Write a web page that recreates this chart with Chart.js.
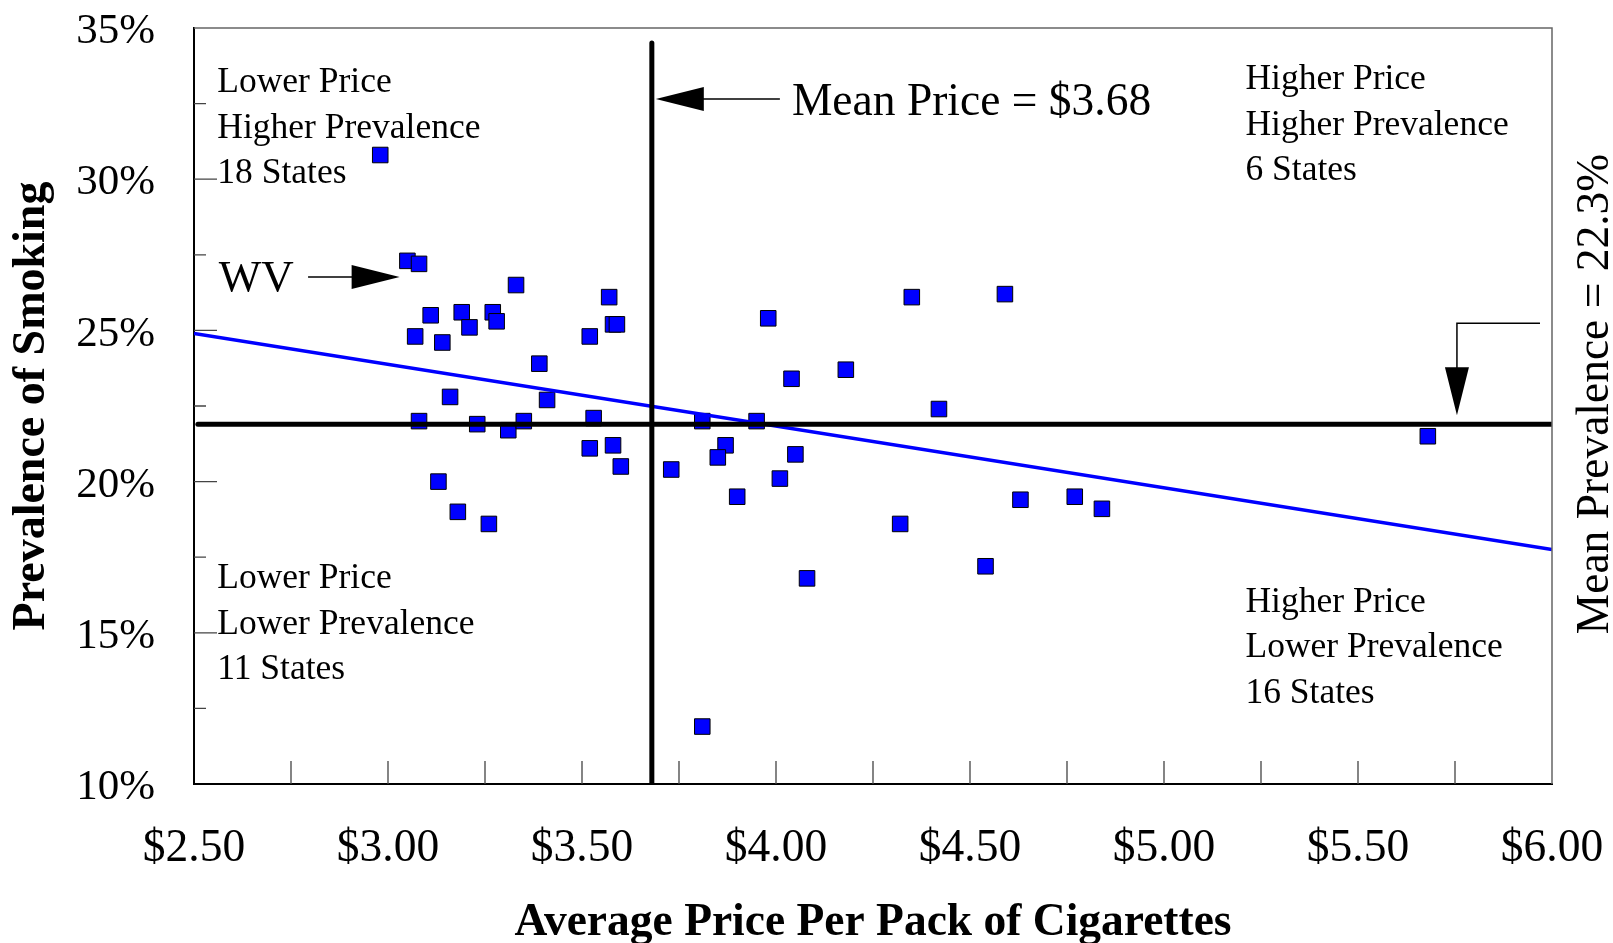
<!DOCTYPE html>
<html>
<head>
<meta charset="utf-8">
<title>Prevalence of Smoking vs Average Price Per Pack of Cigarettes</title>
<script src="https://cdn.jsdelivr.net/npm/chart.js@4/dist/chart.umd.min.js"></script>
<style>
    html, body { margin: 0; padding: 0; background: #fff; }
    #chart { display: block; }
</style>
</head>
<body>
<canvas id="chart" width="1613" height="943"></canvas>
<script>
// one point per state (50 + DC)
var prices = [2.98, 3.05, 3.08, 3.33, 3.11, 3.19, 3.21, 3.27, 3.28, 3.07, 3.14, 3.57, 3.58, 3.59, 3.52, 3.39, 3.16, 3.41,
    3.08, 3.23, 3.31, 3.35, 3.53, 3.52, 3.58, 3.60, 3.73, 3.13, 3.18, 3.26,
    3.98, 4.35, 4.59, 4.04, 4.18, 4.42, 3.81, 3.95, 3.87, 3.85, 4.05, 4.01, 3.90, 4.63, 4.77, 4.84, 4.32, 4.54, 4.08, 3.81,
    5.68];
var prevalence = [30.8, 27.3, 27.2, 26.5, 25.5, 25.6, 25.1, 25.6, 25.3, 24.8, 24.6, 26.1, 25.2, 25.2, 24.8, 23.9, 22.8, 22.7,
    22.0, 21.9, 21.7, 22.0, 22.1, 21.1, 21.2, 20.5, 20.4, 20.0, 19.0, 18.6,
    25.4, 26.1, 26.2, 23.4, 23.7, 22.4, 22.0, 22.0, 21.2, 20.8, 20.9, 20.1, 19.5, 19.4, 19.5, 19.1, 18.6, 17.2, 16.8, 11.9,
    21.5];

// fitted trend line end points
var trendPrices = [2.5, 6.0];
var trendPrevalence = [24.9, 17.75];

// mean lines (the horizontal one sits where the original draws it)
var meanPrice = 3.68;
var meanPriceTop = 34.5;
var meanPrevalenceLine = 21.9;
var meanPrevalenceStart = 2.51;

var priceMin = 2.5, priceMax = 6.0, priceStep = 0.5;
var prevMin = 10, prevMax = 35, prevStep = 5;

var meanPriceText = "Mean Price = $3.68";
var meanPrevalenceText = "Mean Prevalence = 22.3%";
var quadrantLabels = [
    ["Lower Price", "Higher Prevalence", "18 States"],
    ["Higher Price", "Higher Prevalence", "6 States"],
    ["Lower Price", "Lower Prevalence", "11 States"],
    ["Higher Price", "Lower Prevalence", "16 States"]
];

var serif = '"Liberation Serif", "Times New Roman", Times, serif';

function toPoints(xs, ys) {
    var pts = [];
    for (var i = 0; i < xs.length; i++) {
        pts.push({x: xs[i], y: ys[i]});
    }
    return pts;
}

function arrowHead(ctx, tipX, tipY, dir) {
    var len = 48, half = 12;
    ctx.beginPath();
    ctx.moveTo(tipX, tipY);
    if (dir === "left") {
        ctx.lineTo(tipX + len, tipY - half);
        ctx.lineTo(tipX + len, tipY + half);
    } else if (dir === "right") {
        ctx.lineTo(tipX - len, tipY - half);
        ctx.lineTo(tipX - len, tipY + half);
    } else {
        ctx.lineTo(tipX - half, tipY - len);
        ctx.lineTo(tipX + half, tipY - len);
    }
    ctx.closePath();
    ctx.fill();
}

var decorations = {
    id: "decorations",
    afterDatasetsDraw: function (chart) {
        var ctx = chart.ctx;
        var xs = chart.scales.x;
        var ys = chart.scales.y;
        var area = chart.chartArea;
        var i, px, py;

        ctx.save();

        // thin top / right frame
        ctx.strokeStyle = "#666";
        ctx.lineWidth = 1.5;
        ctx.beginPath();
        ctx.moveTo(area.left, area.top);
        ctx.lineTo(area.right, area.top);
        ctx.lineTo(area.right, area.bottom);
        ctx.stroke();

        // inward tick marks
        ctx.strokeStyle = "#444";
        ctx.lineWidth = 1.3;
        ctx.beginPath();
        for (i = 1; i < (priceMax - priceMin) / 0.25; i++) {
            px = xs.getPixelForValue(priceMin + i * 0.25);
            ctx.moveTo(px, area.bottom);
            ctx.lineTo(px, area.bottom - 23);
        }
        for (i = 1; i < (prevMax - prevMin) / 2.5; i++) {
            py = ys.getPixelForValue(prevMin + i * 2.5);
            ctx.moveTo(area.left, py);
            ctx.lineTo(area.left + (i % 2 === 0 ? 23 : 12), py);
        }
        ctx.stroke();

        ctx.fillStyle = "#000";
        ctx.strokeStyle = "#000";
        ctx.textAlign = "left";
        ctx.textBaseline = "alphabetic";

        // quadrant notes
        ctx.font = "35.5px " + serif;
        var noteX = [xs.getPixelForValue(2.56), xs.getPixelForValue(5.21), xs.getPixelForValue(2.56), xs.getPixelForValue(5.21)];
        var noteY = [ys.getPixelForValue(32.88), ys.getPixelForValue(32.98), ys.getPixelForValue(16.48), ys.getPixelForValue(15.69)];
        for (i = 0; i < quadrantLabels.length; i++) {
            for (var j = 0; j < quadrantLabels[i].length; j++) {
                ctx.fillText(quadrantLabels[i][j], noteX[i], noteY[i] + j * 45.5);
            }
        }

        // mean price label and arrow
        ctx.font = "45.5px " + serif;
        ctx.fillText(meanPriceText, xs.getPixelForValue(4.041), ys.getPixelForValue(32.12));
        var arrowY = ys.getPixelForValue(32.65);
        var tipX = xs.getPixelForValue(meanPrice) + 4;
        ctx.lineWidth = 1.5;
        ctx.beginPath();
        ctx.moveTo(xs.getPixelForValue(4.01), arrowY);
        ctx.lineTo(tipX + 40, arrowY);
        ctx.stroke();
        arrowHead(ctx, tipX, arrowY, "left");

        // WV label and arrow
        ctx.font = "45px " + serif;
        ctx.fillText("WV", xs.getPixelForValue(2.564), ys.getPixelForValue(26.30));
        var wvY = ys.getPixelForValue(26.77);
        var wvTip = xs.getPixelForValue(3.03);
        ctx.beginPath();
        ctx.moveTo(xs.getPixelForValue(2.794), wvY);
        ctx.lineTo(wvTip - 40, wvY);
        ctx.stroke();
        arrowHead(ctx, wvTip, wvY, "right");

        // mean prevalence elbow arrow
        var elbowY = ys.getPixelForValue(25.24);
        var elbowX = xs.getPixelForValue(5.755);
        var prevTip = ys.getPixelForValue(meanPrevalenceLine) - 9;
        ctx.beginPath();
        ctx.moveTo(xs.getPixelForValue(5.969), elbowY);
        ctx.lineTo(elbowX, elbowY);
        ctx.lineTo(elbowX, prevTip - 40);
        ctx.stroke();
        arrowHead(ctx, elbowX, prevTip, "down");

        // rotated mean prevalence text right of the plot
        ctx.translate(area.right + 56, (area.top + area.bottom) / 2 - 12);
        ctx.rotate(-Math.PI / 2);
        ctx.textAlign = "center";
        ctx.font = "45.5px " + serif;
        ctx.fillText(meanPrevalenceText, 0, 0);

        ctx.restore();
    }
};

Chart.defaults.font.family = serif;
Chart.defaults.color = "#000";

var ctx = document.getElementById("chart").getContext("2d");
var chart = new Chart(ctx, {
    type: "scatter",
    data: {
        datasets: [
            {
                label: "Mean price",
                type: "line",
                data: [{x: meanPrice, y: meanPriceTop}, {x: meanPrice, y: prevMin}],
                borderColor: "#000",
                borderWidth: 5,
                borderCapStyle: "round",
                pointRadius: 0,
                fill: false,
                order: 1
            },
            {
                label: "Mean prevalence",
                type: "line",
                data: [{x: meanPrevalenceStart, y: meanPrevalenceLine}, {x: priceMax, y: meanPrevalenceLine}],
                borderColor: "#000",
                borderWidth: 5,
                borderCapStyle: "round",
                pointRadius: 0,
                fill: false,
                order: 1
            },
            {
                label: "Trend",
                type: "line",
                data: toPoints(trendPrices, trendPrevalence),
                borderColor: "#0000ff",
                borderWidth: 3.5,
                pointRadius: 0,
                fill: false,
                order: 1
            },
            {
                label: "States",
                data: toPoints(prices, prevalence),
                pointStyle: "rect",
                pointRadius: 11,
                pointHoverRadius: 11,
                backgroundColor: "#0000ff",
                borderColor: "#000",
                borderWidth: 1,
                order: 2
            }
        ]
    },
    options: {
        responsive: false,
        animation: false,
        events: [],
        layout: {
            padding: {top: 28, right: 61, left: 0, bottom: 0}
        },
        plugins: {
            legend: {display: false},
            tooltip: {enabled: false}
        },
        scales: {
            x: {
                type: "linear",
                min: priceMin,
                max: priceMax,
                afterFit: function (scale) {
                    scale.height = 159;
                    scale.paddingLeft = 0;
                    scale.paddingRight = 0;
                },
                grid: {display: false, drawTicks: false},
                border: {display: true, color: "#000", width: 2},
                ticks: {
                    stepSize: priceStep,
                    padding: 38,
                    font: {size: 45.5},
                    callback: function (value) {
                        return "$" + Number(value).toFixed(2);
                    }
                },
                title: {
                    display: true,
                    text: "Average Price Per Pack of Cigarettes",
                    font: {size: 45.5, weight: "bold", lineHeight: 0.85},
                    padding: {top: 0, bottom: 0}
                }
            },
            y: {
                type: "linear",
                min: prevMin,
                max: prevMax,
                afterFit: function (scale) {
                    scale.width = 194;
                    scale.paddingTop = 0;
                    scale.paddingBottom = 0;
                },
                grid: {display: false, drawTicks: false},
                border: {display: true, color: "#000", width: 2},
                ticks: {
                    stepSize: prevStep,
                    padding: 39,
                    labelOffset: 4,
                    font: {size: 43},
                    callback: function (value) {
                        return value + "%";
                    }
                },
                title: {
                    display: true,
                    text: "Prevalence of Smoking",
                    font: {size: 46, weight: "bold", lineHeight: 1},
                    padding: {top: 9, bottom: 0}
                }
            }
        }
    },
    plugins: [decorations]
});
</script>
</body>
</html>
